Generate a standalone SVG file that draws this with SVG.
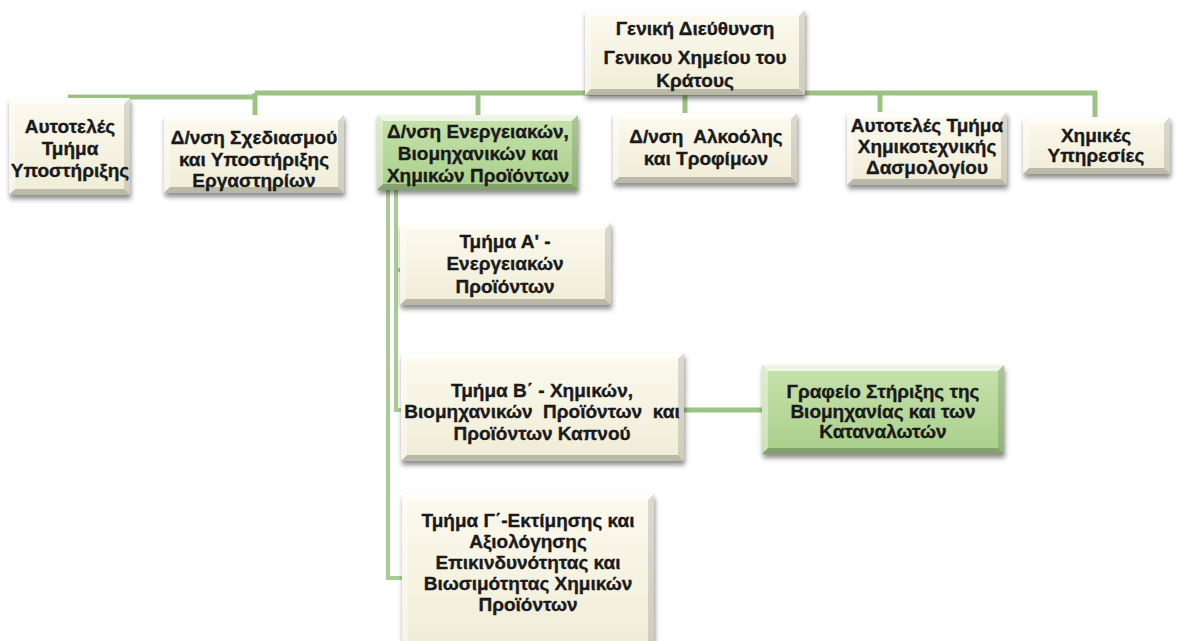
<svg xmlns="http://www.w3.org/2000/svg" width="1182" height="641" viewBox="0 0 1182 641">
<defs>
<linearGradient id="gc" x1="0" y1="0" x2="0" y2="1"><stop offset="0" stop-color="#fcfaef"/><stop offset="1" stop-color="#efecd6"/></linearGradient>
<linearGradient id="gg" x1="0" y1="0" x2="0" y2="1"><stop offset="0" stop-color="#c6e2ac"/><stop offset="1" stop-color="#a9cf8b"/></linearGradient>
<filter id="sh" x="-10%" y="-10%" width="125%" height="140%"><feDropShadow dx="1" dy="4" stdDeviation="2.5" flood-color="#000" flood-opacity="0.45"/></filter>
<style>
.box{fill:url(#gc);filter:url(#sh)}
.gbox{fill:url(#gg);filter:url(#sh)}
.bt{fill:#fff;opacity:.7}
.bl{fill:#fff;opacity:.4}
.br{fill:#000;opacity:.13}
.bb{fill:#000;opacity:.22}
.c{fill:none;stroke:#9cc284;stroke-width:5}
.c2{fill:none;stroke:#a9cc92;stroke-width:4}
text{font-family:"Liberation Sans",Arial,sans-serif;font-weight:bold;font-size:19px;fill:#1a1a1a;stroke:#1a1a1a;stroke-width:0.35;text-anchor:middle;white-space:pre}
</style>
</defs>
<g id="connectors">
<path class="c" d="M68,97 H255"/>
<path class="c" d="M255,93 H1095 V117"/>
<path class="c" d="M255,93 V115"/>
<path class="c" d="M478,93 V115"/>
<path class="c" d="M685,93 V113"/>
<path class="c" d="M880,93 V112"/>
<path class="c2" d="M396,190 V410 H401"/>
<path class="c2" d="M396,270 H400"/>
<path class="c2" d="M388,190 V578 H402"/>
<path class="c" d="M684,410 H762"/>
</g>
<g id="n0">
<rect class="box" x="585" y="10" width="220" height="85"/>
<polygon class="bt" points="585,10 805,10 799,16 591,16"/><polygon class="bl" points="585,10 591,16 591,89 585,95"/><polygon class="br" points="805,10 805,95 799,89 799,16"/><polygon class="bb" points="585,95 805,95 799,89 591,89"/>
<text x="695" y="35">Γενική Διεύθυνση</text><text x="695" y="64">Γενικου Χημείου του</text><text x="695" y="87">Κράτους</text>
</g>
<g id="n1">
<rect class="box" x="9" y="98" width="121" height="97"/>
<polygon class="bt" points="9,98 130,98 124,104 15,104"/><polygon class="bl" points="9,98 15,104 15,189 9,195"/><polygon class="br" points="130,98 130,195 124,189 124,104"/><polygon class="bb" points="9,195 130,195 124,189 15,189"/>
<text x="70" y="133">Αυτοτελές</text><text x="70" y="155">Τμήμα</text><text x="70" y="177">Υποστήριξης</text>
</g>
<g id="n2">
<rect class="box" x="164" y="115" width="180" height="78"/>
<polygon class="bt" points="164,115 344,115 338,121 170,121"/><polygon class="bl" points="164,115 170,121 170,187 164,193"/><polygon class="br" points="344,115 344,193 338,187 338,121"/><polygon class="bb" points="164,193 344,193 338,187 170,187"/>
<text x="254" y="144">Δ/νση Σχεδιασμού</text><text x="254" y="166">και Υποστήριξης</text><text x="254" y="187">Εργαστηρίων</text>
</g>
<g id="n3">
<rect class="gbox" x="377" y="115" width="201" height="75"/>
<polygon class="bt" points="377,115 578,115 572,121 383,121"/><polygon class="bl" points="377,115 383,121 383,184 377,190"/><polygon class="br" points="578,115 578,190 572,184 572,121"/><polygon class="bb" points="377,190 578,190 572,184 383,184"/>
<text x="478" y="138">Δ/νση Ενεργειακών,</text><text x="478" y="160">Βιομηχανικών και</text><text x="478" y="182">Χημικών Προϊόντων</text>
</g>
<g id="n4">
<rect class="box" x="613" y="113" width="184" height="70"/>
<polygon class="bt" points="613,113 797,113 791,119 619,119"/><polygon class="bl" points="613,113 619,119 619,177 613,183"/><polygon class="br" points="797,113 797,183 791,177 791,119"/><polygon class="bb" points="613,183 797,183 791,177 619,177"/>
<text x="706" y="143">Δ/νση  Αλκοόλης</text><text x="706" y="165">και Τροφίμων</text>
</g>
<g id="n5">
<rect class="box" x="847" y="112" width="160" height="73"/>
<polygon class="bt" points="847,112 1007,112 1001,118 853,118"/><polygon class="bl" points="847,112 853,118 853,179 847,185"/><polygon class="br" points="1007,112 1007,185 1001,179 1001,118"/><polygon class="bb" points="847,185 1007,185 1001,179 853,179"/>
<text x="927" y="132">Αυτοτελές Τμήμα</text><text x="927" y="153">Χημικοτεχνικής</text><text x="927" y="174">Δασμολογίου</text>
</g>
<g id="n6">
<rect class="box" x="1023" y="117" width="147" height="57"/>
<polygon class="bt" points="1023,117 1170,117 1164,123 1029,123"/><polygon class="bl" points="1023,117 1029,123 1029,168 1023,174"/><polygon class="br" points="1170,117 1170,174 1164,168 1164,123"/><polygon class="bb" points="1023,174 1170,174 1164,168 1029,168"/>
<text x="1096" y="142">Χημικές</text><text x="1096" y="162">Υπηρεσίες</text>
</g>
<g id="n7">
<rect class="box" x="400" y="223" width="211" height="82"/>
<polygon class="bt" points="400,223 611,223 605,229 406,229"/><polygon class="bl" points="400,223 406,229 406,299 400,305"/><polygon class="br" points="611,223 611,305 605,299 605,229"/><polygon class="bb" points="400,305 611,305 605,299 406,299"/>
<text x="505" y="248">Τμήμα Α' -</text><text x="505" y="270">Ενεργειακών</text><text x="505" y="293">Προϊόντων</text>
</g>
<g id="n8">
<rect class="box" x="401" y="353" width="283" height="108"/>
<polygon class="bt" points="401,353 684,353 678,359 407,359"/><polygon class="bl" points="401,353 407,359 407,455 401,461"/><polygon class="br" points="684,353 684,461 678,455 678,359"/><polygon class="bb" points="401,461 684,461 678,455 407,455"/>
<text x="542" y="397">Τμήμα Β΄ - Χημικών,</text><text x="542" y="418">Βιομηχανικών  Προϊόντων  και</text><text x="542" y="440">Προϊόντων Καπνού</text>
</g>
<g id="n9">
<rect class="gbox" x="762" y="365" width="242" height="89"/>
<polygon class="bt" points="762,365 1004,365 998,371 768,371"/><polygon class="bl" points="762,365 768,371 768,448 762,454"/><polygon class="br" points="1004,365 1004,454 998,448 998,371"/><polygon class="bb" points="762,454 1004,454 998,448 768,448"/>
<text x="883" y="398">Γραφείο Στήριξης της</text><text x="883" y="418">Βιομηχανίας και των</text><text x="883" y="438">Καταναλωτών</text>
</g>
<g id="n10">
<rect class="box" x="402" y="494" width="252" height="155"/>
<polygon class="bt" points="402,494 654,494 648,500 408,500"/><polygon class="bl" points="402,494 408,500 408,649 402,649"/><polygon class="br" points="654,494 654,649 648,649 648,500"/>
<text x="528" y="527">Τμήμα Γ΄-Εκτίμησης και</text><text x="528" y="548">Αξιολόγησης</text><text x="528" y="569">Επικινδυνότητας και</text><text x="528" y="590">Βιωσιμότητας Χημικών</text><text x="528" y="611">Προϊόντων</text>
</g>
</svg>
